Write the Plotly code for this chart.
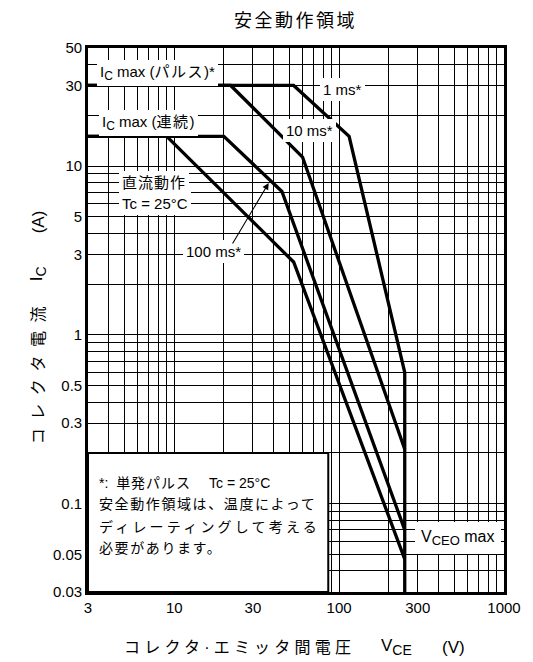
import math
import plotly.graph_objects as go

# ---------------- data ----------------
# Safe operating area curves (V_CE in volts, I_C in amperes)
ms1_v = [3, 53, 115, 250]
ms1_i = [30, 30, 15, 0.6]
ms10_v = [3, 22, 60, 250]
ms10_i = [30, 30, 11.3, 0.21]
ms100_v = [3, 20, 45, 250]
ms100_i = [15, 15, 7.06, 0.07]
dc_v = [3, 9, 53, 250]
dc_i = [15, 15, 2.7, 0.047]
vceo_v = [250, 250]
vceo_i = [0.6, 0.03]

# axis ticks and grid
x_ticks = [3, 10, 30, 100, 300, 1000]
x_ticktext = ["3", "10", "30", "100", "300", "1000"]
x_grid = [4, 5, 6, 7, 8, 9, 20, 40, 50, 60, 70, 80, 90,
          200, 400, 500, 600, 700, 800, 900]
y_ticks = [0.03, 0.05, 0.1, 0.3, 0.5, 1, 3, 5, 10, 30, 50]
y_ticktext = ["0.03", "0.05", "0.1", "0.3", "0.5", "1", "3", "5", "10", "30", "50"]
y_grid = [0.04, 0.06, 0.07, 0.08, 0.09, 0.2, 0.4, 0.6, 0.7, 0.8, 0.9,
          2, 4, 6, 7, 8, 9, 20, 40]

FONT = "Liberation Sans, Arial, Noto Sans CJK JP, sans-serif"

# the page body has an 8px margin; reference pixel positions are shifted by it
OFF = 8
W, H = 533 - OFF, 662 - OFF
L, R, T, B = 88, 507, 48, 592  # plot area in reference pixels


def px(xp):
    return (xp - L) / (R - L)


def py(yp):
    return (B - yp) / (B - T)


def sp(text, s):
    return '<span style="letter-spacing:%spx">%s</span>' % (s, text)


def sub(text, size):
    return '<sub><span style="font-size:%spx">%s</span></sub>' % (size, text)


fig = go.Figure()
line = dict(color="black", width=3.3)
for v, i in [(dc_v, dc_i), (ms100_v, ms100_i), (ms10_v, ms10_i),
             (ms1_v, ms1_i), (vceo_v, vceo_i)]:
    fig.add_trace(go.Scatter(x=v, y=i, mode="lines", line=line,
                             hoverinfo="skip", showlegend=False))

fig.update_layout(
    width=W, height=H,
    margin=dict(l=L - OFF, r=W - (R - OFF), t=T - OFF, b=H - (B - OFF)),
    paper_bgcolor="white", plot_bgcolor="white",
    font=dict(family=FONT, size=15, color="black"),
    showlegend=False,
)
grid = dict(showgrid=True, gridcolor="black", gridwidth=1.4)
fig.update_xaxes(
    type="log", range=[math.log10(3), 3],
    tickmode="array", tickvals=x_ticks, ticktext=x_ticktext,
    minor=dict(tickvals=x_grid, ticks="", **grid), **grid,
    showline=True, linecolor="black", linewidth=2.6, mirror=True,
    ticks="", zeroline=False, tickfont=dict(size=15),
)
fig.update_yaxes(
    type="log", range=[math.log10(0.03), math.log10(50)],
    tickmode="array", tickvals=y_ticks, ticktext=y_ticktext,
    minor=dict(tickvals=y_grid, ticks="", **grid), **grid,
    showline=True, linecolor="black", linewidth=2.6, mirror=True,
    ticks="", zeroline=False, tickfont=dict(size=15),
)

# note box
fig.add_shape(type="rect", xref="paper", yref="paper",
              x0=0, x1=px(330), y0=0, y1=py(453),
              fillcolor="white", line=dict(color="black", width=2),
              layer="above")

ann = []


def label(text, x, y, size=15, anchor="left", bg="white", pad=3, angle=0):
    ann.append(dict(text=text, xref="paper", yref="paper",
                    x=px(x - pad) if anchor == "left" else px(x),
                    y=py(y), xanchor=anchor, yanchor="middle", textangle=angle,
                    showarrow=False, bgcolor=bg, borderpad=pad, borderwidth=0,
                    font=dict(size=size, family=FONT, color="black")))


label("I" + sub("C", 12) + " max (" + sp("パルス", 1.5) + ")*", 100, 73)
label("I" + sub("C", 12) + " max (" + sp("連続", 1.5) + ")", 102, 123)
label("1 ms*", 325, 90)
label("10 ms*", 287, 130)
label(sp("直流動作", 1), 122, 182)
label("Tc = 25°C", 122, 203)
label("100 ms*", 214, 251, anchor="center")
label("V" + sub("CEO", 13) + " max", 423, 538, size=16, pad=6)

# note text
label("*:  " + sp("単発パルス", 1) + "　 Tc = 25°C", 99, 483, size=14, bg=None, pad=0)
label(sp("安全動作領域は、温度によって", 1.6), 99, 504, size=14, bg=None, pad=0)
label(sp("ディレーティングして考える", 3.2), 99, 527, size=14, bg=None, pad=0)
label(sp("必要があります。", 1.6), 99, 548, size=14, bg=None, pad=0)

# arrow for 100 ms
ann.append(dict(text="", xref="paper", yref="paper", x=px(270), y=py(183),
                ax=233 - 270, ay=245 - 183, showarrow=True, arrowhead=2,
                arrowsize=1.2, arrowwidth=1.1, arrowcolor="black"))

# title
label(sp("安全動作領域", 2.5), 297, 21, size=18, anchor="center", bg=None, pad=0)
# x-axis title pieces
label(sp("コレクタ·エミッタ間電圧", 4.2), 241, 647, size=16, anchor="center", bg=None, pad=0)
label("V" + sub("CE", 14), 399, 647, size=17, anchor="center", bg=None, pad=0)
label("(V)", 456, 647, size=17, anchor="center", bg=None, pad=0)
# y-axis title pieces (rotated)
label(sp("コレクタ電流", 8.5), 38, 371, size=16, anchor="center", bg=None, pad=0, angle=-90)
label("I" + sub("C", 14), 38, 274, size=17, anchor="center", bg=None, pad=0, angle=-90)
label("(A)", 38, 222, size=17, anchor="center", bg=None, pad=0, angle=-90)

fig.update_layout(annotations=ann)
fig.write_html("out.html")
